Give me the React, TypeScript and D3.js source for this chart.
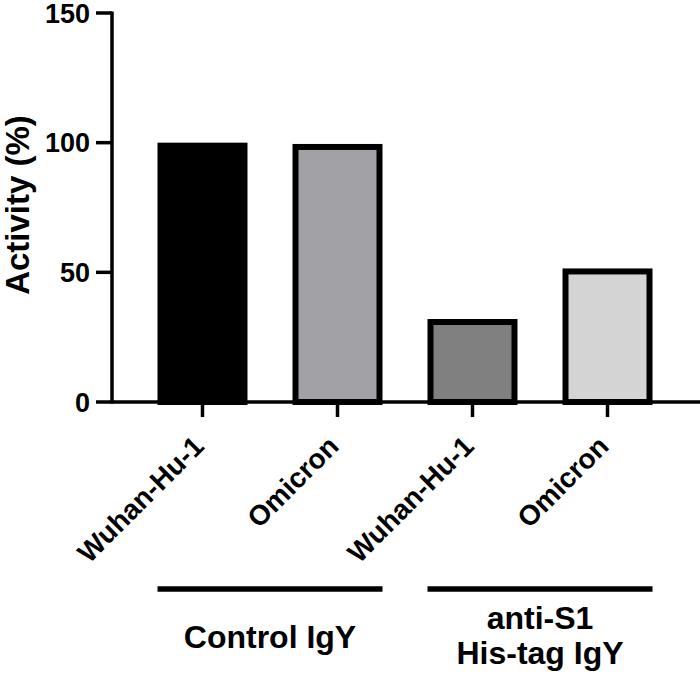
import * as d3 from 'd3'
import React, { useEffect, useRef } from 'react'

const categories = ['Wuhan-Hu-1', 'Omicron', 'Wuhan-Hu-1', 'Omicron']
const values = [100, 99.5, 32, 51.5]
const fills = ['#000000', '#a2a1a6', '#808080', '#d4d4d4']
const yTicks = [0, 50, 100, 150]
const groups = ['Control IgY', 'anti-S1\nHis-tag IgY']
const groupMembers = [[0, 1], [2, 3]]

const App = () => {
  const ref = useRef(null)

  useEffect(() => {
    const width = 700
    const height = 675
    const font = '"Liberation Sans", Arial, sans-serif'

    const svg = d3.select(ref.current).attr('width', width).attr('height', height)
    svg.selectAll('*').remove()

    const y = d3.scaleLinear().domain([0, 150]).range([402, 13])
    const x = d3
      .scalePoint()
      .domain(categories.map((d, i) => String(i)))
      .range([202.5, 607.5])
    const barW = 90
    const sw = 6

    // bars
    svg
      .selectAll('rect.bar')
      .data(values)
      .enter()
      .append('rect')
      .attr('class', 'bar')
      .attr('x', (d, i) => (x(String(i)) as number) - barW / 2 + sw / 2)
      .attr('y', (d) => y(d) + sw / 2)
      .attr('width', barW - sw)
      .attr('height', (d) => y(0) - y(d) - sw / 2)
      .attr('fill', (d, i) => fills[i])
      .attr('stroke', '#000')
      .attr('stroke-width', sw)

    // y axis
    const axisX = 112
    svg
      .append('line')
      .attr('x1', axisX)
      .attr('x2', axisX)
      .attr('y1', y(150) - 1.5)
      .attr('y2', y(0) + 1.5)
      .attr('stroke', '#000')
      .attr('stroke-width', 3.5)

    const yt = svg.selectAll('g.ytick').data(yTicks).enter().append('g').attr('class', 'ytick')
    yt.append('line')
      .attr('x1', 96)
      .attr('x2', axisX)
      .attr('y1', (d) => y(d))
      .attr('y2', (d) => y(d))
      .attr('stroke', '#000')
      .attr('stroke-width', 3.5)
    yt.append('text')
      .attr('x', 90)
      .attr('y', (d) => y(d))
      .attr('dy', '0.36em')
      .attr('text-anchor', 'end')
      .attr('font-family', font)
      .attr('font-weight', 'bold')
      .attr('font-size', 27)
      .text((d) => d)

    // x axis
    svg
      .append('line')
      .attr('x1', axisX)
      .attr('x2', width)
      .attr('y1', y(0))
      .attr('y2', y(0))
      .attr('stroke', '#000')
      .attr('stroke-width', 3.5)

    const xt = svg.selectAll('g.xtick').data(categories).enter().append('g').attr('class', 'xtick')
    xt.append('line')
      .attr('x1', (d, i) => x(String(i)) as number)
      .attr('x2', (d, i) => x(String(i)) as number)
      .attr('y1', y(0))
      .attr('y2', y(0) + 15)
      .attr('stroke', '#000')
      .attr('stroke-width', 3.5)
    xt.append('text')
      .attr('transform', (d, i) => `translate(${(x(String(i)) as number) - 4},${441}) rotate(-45)`)
      .attr('dy', '0.35em')
      .attr('text-anchor', 'end')
      .attr('font-family', font)
      .attr('font-weight', 'bold')
      .attr('font-size', 28)
      .text((d) => d)

    // y title
    svg
      .append('text')
      .attr('transform', `translate(29,205) rotate(-90)`)
      .attr('text-anchor', 'middle')
      .attr('font-family', font)
      .attr('font-weight', 'bold')
      .attr('font-size', 33)
      .text('Activity (%)')

    // group lines and labels
    groups.forEach((g, gi) => {
      const mem = groupMembers[gi]
      const x1 = (x(String(mem[0])) as number) - barW / 2
      const x2 = (x(String(mem[mem.length - 1])) as number) + barW / 2
      svg
        .append('line')
        .attr('x1', x1)
        .attr('x2', x2)
        .attr('y1', 589)
        .attr('y2', 589)
        .attr('stroke', '#000')
        .attr('stroke-width', 5.5)
      const lines = g.split('\n')
      const t = svg
        .append('text')
        .attr('text-anchor', 'middle')
        .attr('font-family', font)
        .attr('font-weight', 'bold')
        .attr('font-size', 32)
      const baseY = lines.length === 1 ? 648 : 629
      lines.forEach((l, li) => {
        t.append('tspan')
          .attr('x', (x1 + x2) / 2)
          .attr('y', baseY + li * 35)
          .text(l)
      })
    })
  }, [])

  return (
    <svg ref={ref} style={{ position: 'absolute', left: 0, top: 0, background: '#fff' }}></svg>
  )
}

export default App
